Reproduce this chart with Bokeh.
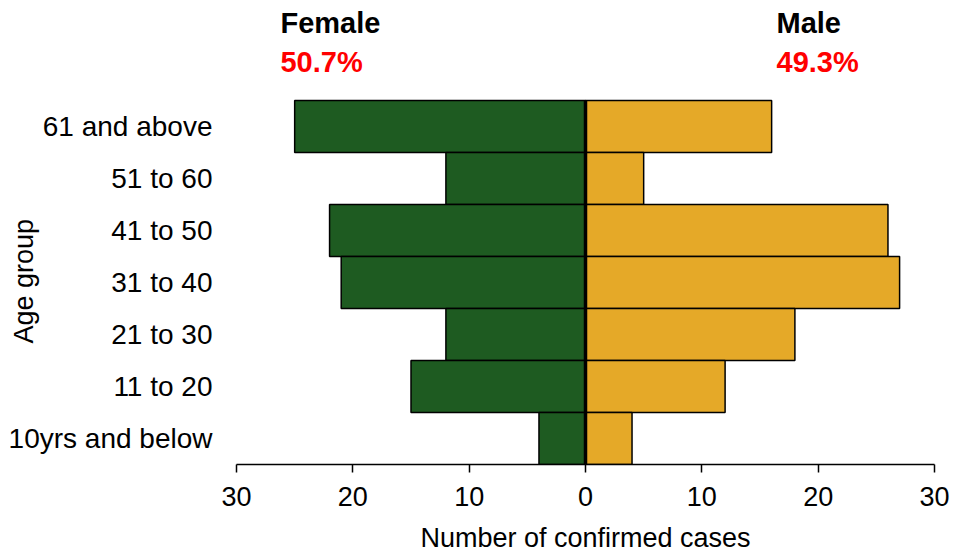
import math
from bokeh.plotting import figure
from bokeh.models import Range1d, Label, FixedTicker, ColumnDataSource
from bokeh.embed import file_html
from bokeh.resources import INLINE

# Data (top to bottom as shown)
age_groups = ["61 and above", "51 to 60", "41 to 50", "31 to 40", "21 to 30", "11 to 20", "10yrs and below"]
female = [25, 12, 22, 21, 12, 15, 4]
male = [16, 5, 26, 27, 18, 12, 4]
female_pct = "50.7%"
male_pct = "49.3%"
x_ticks = [-30, -20, -10, 0, 10, 20, 30]
x_tick_labels = ["30", "20", "10", "0", "10", "20", "30"]

FONT = "Liberation Sans"
GREEN = "#1E5B21"
GOLD = "#E5A928"

n = len(age_groups)
# numeric slot of each category (bottom = 0.5)
ypos = [n - i - 0.5 for i in range(n)]

src = ColumnDataSource(dict(
    y=ypos,
    f_left=[-v for v in female],
    zero=[0] * n,
    m_right=male,
))

p = figure(
    width=956, height=555,
    y_range=Range1d(0, 464 / 52),
    x_range=Range1d(-30, 30),
    output_backend="svg", toolbar_location=None,
    min_border_left=236, min_border_right=22, min_border_top=0, min_border_bottom=91,
)
p.outline_line_color = None
p.grid.visible = False
p.background_fill_color = "white"
p.border_fill_color = "white"

p.hbar(y="y", left="f_left", right="zero", height=1.0, source=src,
       fill_color=GREEN, line_color="black", line_width=1.5)
p.hbar(y="y", left="zero", right="m_right", height=1.0, source=src,
       fill_color=GOLD, line_color="black", line_width=1.5)

# thick zero line across the category band
p.segment(x0=[0], y0=[0], x1=[0], y1=[n], line_color="black", line_width=3.5)

# x axis
xa = p.xaxis[0]
xa.ticker = FixedTicker(ticks=x_ticks)
xa.major_label_overrides = {t: l for t, l in zip(x_ticks, x_tick_labels)}
xa.minor_tick_line_color = None
xa.major_tick_in = 0
xa.major_tick_out = 8
xa.axis_line_width = 1.5
xa.major_tick_line_width = 1.5
xa.axis_line_color = "black"
xa.major_tick_line_color = "black"
xa.major_label_text_font = FONT
xa.major_label_text_font_size = "27px"
xa.major_label_text_color = "black"
xa.major_label_standoff = 14
xa.axis_label = "Number of confirmed cases"
xa.axis_label_text_font = FONT
xa.axis_label_text_font_size = "27px"
xa.axis_label_text_font_style = "normal"
xa.axis_label_text_color = "black"
xa.axis_label_standoff = 14

# y axis
ya = p.yaxis[0]
ya.ticker = FixedTicker(ticks=ypos)
ya.major_label_overrides = {y: a for y, a in zip(ypos, age_groups)}
ya.axis_line_color = None
ya.major_tick_line_color = None
ya.minor_tick_line_color = None
ya.major_tick_in = 0
ya.major_tick_out = 0
ya.major_label_text_font = FONT
ya.major_label_text_font_size = "28px"
ya.major_label_text_color = "black"
ya.major_label_standoff = 24
# trailing no-break spaces keep the label centred on the category band
ya.axis_label = "Age group" + "\u00a0" * 13
ya.axis_label_text_font = FONT
ya.axis_label_text_font_size = "27px"
ya.axis_label_text_font_style = "normal"
ya.axis_label_text_color = "black"
ya.axis_label_standoff = -33

# Header labels
for xv, name, pct in [(-26.22, "Female", female_pct), (16.42, "Male", male_pct)]:
    p.add_layout(Label(x=xv, y=8.49, text=name, text_align="left", text_baseline="alphabetic",
                       text_font=FONT, text_font_size="29px", text_font_style="bold",
                       text_color="black"))
    p.add_layout(Label(x=xv, y=7.74, text=pct, text_align="left", text_baseline="alphabetic",
                       text_font=FONT, text_font_size="29px", text_font_style="bold",
                       text_color="#FF0000"))

open("out.html", "w").write(file_html(p, INLINE))
